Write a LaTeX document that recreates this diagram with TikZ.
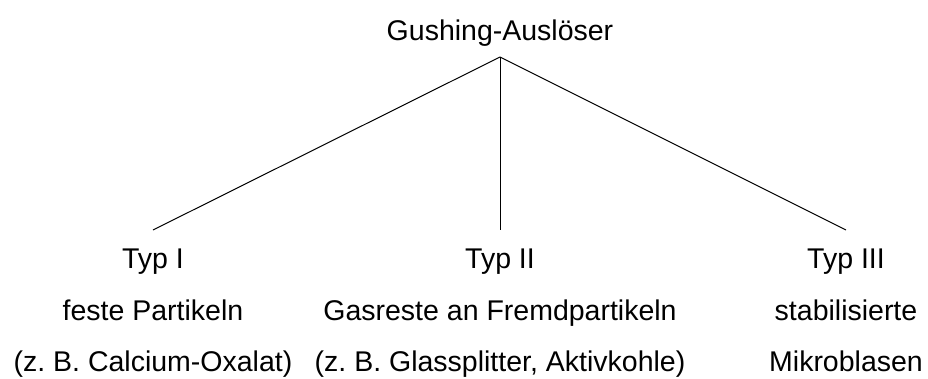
\documentclass[tikz,border=0pt]{standalone}
\usepackage{fontspec}
\setmainfont{Liberation Sans}
\frenchspacing
\begin{document}
\begin{tikzpicture}[x=1pt,y=-1pt,
  lbl/.style={anchor=base,inner sep=0pt,font=\fontsize{28.5}{34}\selectfont},
  conn/.style={draw=black,line width=1pt}]
\useasboundingbox (0,0) rectangle (928,378);
\node[lbl] (root) at (500,40) {Gushing-Auslöser};
\coordinate (apex) at (500,57);
\node[lbl] (t1) at (153,268.5) {Typ I};
\node[lbl] (t2) at (500,268.5) {Typ II};
\node[lbl] (t3) at (846,268.5) {Typ III};
\node[lbl] (d1) at (153,320) {feste Partikeln};
\node[lbl] (d2) at (500,320) {Gasreste an Fremdpartikeln};
\node[lbl] (d3) at (846,320) {stabilisierte};
\node[lbl] (e1) at (153,371.5) {(z.\ B.\ Calcium-Oxalat)};
\node[lbl] (e2) at (500,371.5) {(z.\ B.\ Glassplitter, Aktivkohle)};
\node[lbl] (e3) at (846,371.5) {Mikroblasen};
\coordinate (c1) at (t1.north |- 0,230);
\coordinate (c2) at (t2.north |- 0,230);
\coordinate (c3) at (t3.north |- 0,230);
\draw[conn] (apex) -- (c1);
\draw[conn] (apex) -- (c2);
\draw[conn] (apex) -- (c3);
\end{tikzpicture}
\end{document}
